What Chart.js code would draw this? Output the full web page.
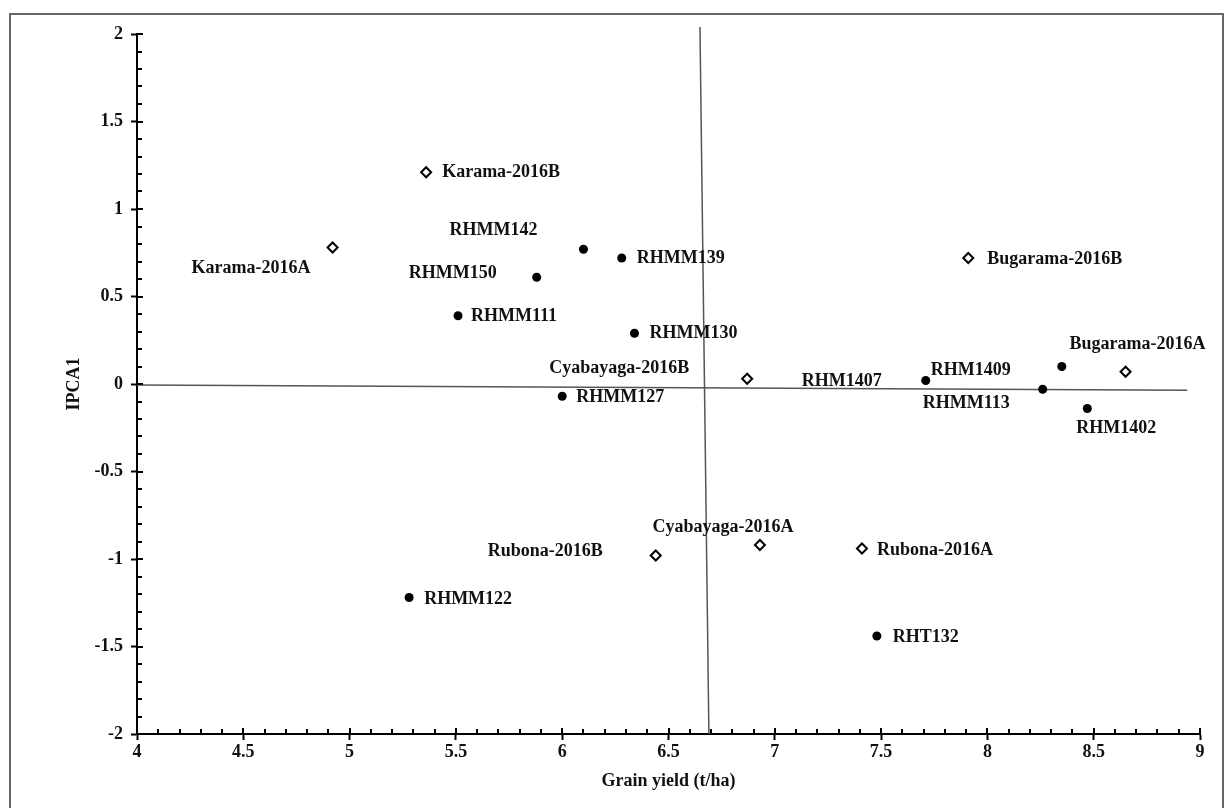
<!DOCTYPE html>
<html lang="en">
<head>
    <meta charset="UTF-8">
    <title>AMMI1 biplot - grain yield vs IPCA1</title>
    <script src="https://cdn.jsdelivr.net/npm/chart.js"></script>
    <style>
        body {
            margin: 0;
            background-color: #fff;
        }
        .frame {
            position: absolute;
            left: 9px;
            top: 13px;
            width: 1211px;
            height: 820px;
            border: 2px solid #666;
        }
        #biplot {
            position: absolute;
            left: 0;
            top: 0;
        }
    </style>
</head>
<body>
    <div class="frame"></div>
    <canvas id="biplot" width="1224" height="808"></canvas>

    <script>
        // genotypes (filled dots)
        const genotypes = ['RHMM142', 'RHMM139', 'RHMM150', 'RHMM111', 'RHMM130', 'RHMM127',
                           'RHMM122', 'RHT132', 'RHM1407', 'RHM1409', 'RHMM113', 'RHM1402'];
        const genotypeYield = [6.10, 6.28, 5.88, 5.51, 6.34, 6.00, 5.28, 7.48, 7.71, 8.35, 8.26, 8.47];
        const genotypeIPCA1 = [0.77, 0.72, 0.61, 0.39, 0.29, -0.07, -1.22, -1.44, 0.02, 0.10, -0.03, -0.14];

        // environments (open diamonds)
        const environments = ['Karama-2016B', 'Karama-2016A', 'Bugarama-2016B', 'Bugarama-2016A',
                              'Cyabayaga-2016B', 'Cyabayaga-2016A', 'Rubona-2016A', 'Rubona-2016B'];
        const envYield = [5.36, 4.92, 7.91, 8.65, 6.87, 6.93, 7.41, 6.44];
        const envIPCA1 = [1.21, 0.78, 0.72, 0.07, 0.03, -0.92, -0.94, -0.98];

        // reference lines (grand mean yield / IPCA1 = 0) as drawn in the figure
        const meanYieldLine = [{x: 6.648, y: 2.04}, {x: 6.69, y: -2}];
        const zeroIpcaLine = [{x: 4, y: -0.005}, {x: 8.94, y: -0.036}];

        // axis tick values
        const xMin = 4, xMax = 9, xStep = 0.5;
        const yMin = -2, yMax = 2, yStep = 0.5;

        // where each label sits relative to its marker: [dx, dy, align]
        const labelPlacement = {
            'RHMM142': [-90, -19, 'center'],
            'RHMM139': [15, 0, 'left'],
            'RHMM150': [-40, -4, 'right'],
            'RHMM111': [13, 1, 'left'],
            'RHMM130': [15, 0, 'left'],
            'RHMM127': [14, 1, 'left'],
            'RHMM122': [15, 2, 'left'],
            'RHT132': [16, 1, 'left'],
            'RHM1407': [-44, 1, 'right'],
            'RHM1409': [-51, 4, 'right'],
            'RHMM113': [-33, 14, 'right'],
            'RHM1402': [29, 20, 'center'],
            'Karama-2016B': [16, 0, 'left'],
            'Karama-2016A': [-22, 21, 'right'],
            'Bugarama-2016B': [19, 1, 'left'],
            'Bugarama-2016A': [12, -27, 'center'],
            'Cyabayaga-2016B': [-58, -10, 'right'],
            'Cyabayaga-2016A': [-37, -18, 'center'],
            'Rubona-2016A': [15, 2, 'left'],
            'Rubona-2016B': [-53, -4, 'right']
        };

        const serif = '"Liberation Serif", "Times New Roman", serif';

        const toPoints = (xs, ys) => xs.map((x, i) => ({x: x, y: ys[i]}));
        const tickText = (v) => String(Math.round(v * 10) / 10);

        // point labels
        const pointLabels = {
            id: 'pointLabels',
            afterDatasetsDraw(chart) {
                const ctx = chart.ctx;
                ctx.save();
                ctx.font = 'bold 18px ' + serif;
                ctx.fillStyle = '#111';
                ctx.textBaseline = 'middle';
                chart.data.datasets.forEach((ds, di) => {
                    if (!ds.names) return;
                    const meta = chart.getDatasetMeta(di);
                    meta.data.forEach((pt, i) => {
                        const name = ds.names[i];
                        const p = labelPlacement[name] || [12, 0, 'left'];
                        ctx.textAlign = p[2];
                        ctx.fillText(name, pt.x + p[0], pt.y + p[1]);
                    });
                });
                ctx.restore();
            }
        };

        // minor ticks (every 0.1) and inner half of major ticks
        const minorTicks = {
            id: 'minorTicks',
            afterDraw(chart) {
                const ctx = chart.ctx;
                const xs = chart.scales.x, ys = chart.scales.y;
                const area = chart.chartArea;
                ctx.save();
                ctx.strokeStyle = '#000';
                ctx.lineWidth = 2;
                ctx.beginPath();
                for (let i = xMin * 10; i <= xMax * 10; i++) {
                    const px = Math.round(xs.getPixelForValue(i / 10));
                    const len = (i % 5 === 0) ? 6 : 5;
                    ctx.moveTo(px, area.bottom);
                    ctx.lineTo(px, area.bottom - len);
                }
                for (let i = yMin * 10; i <= yMax * 10; i++) {
                    const py = Math.round(ys.getPixelForValue(i / 10));
                    const len = (i % 5 === 0) ? 6 : 5;
                    ctx.moveTo(area.left, py);
                    ctx.lineTo(area.left + len, py);
                }
                ctx.stroke();
                ctx.restore();
            }
        };

        const tickFont = {family: serif, size: 18, weight: 'bold'};

        const ctx = document.getElementById('biplot').getContext('2d');
        const chart = new Chart(ctx, {
            type: 'scatter',
            data: {
                datasets: [
                    {
                        type: 'line',
                        data: meanYieldLine,
                        borderColor: '#555',
                        borderWidth: 1.5,
                        pointRadius: 0,
                        showLine: true,
                        clip: false,
                        order: 3
                    },
                    {
                        type: 'line',
                        data: zeroIpcaLine,
                        borderColor: '#555',
                        borderWidth: 1.5,
                        pointRadius: 0,
                        showLine: true,
                        clip: false,
                        order: 3
                    },
                    {
                        label: 'Genotypes',
                        names: genotypes,
                        data: toPoints(genotypeYield, genotypeIPCA1),
                        pointStyle: 'circle',
                        pointRadius: 4.5,
                        backgroundColor: '#000',
                        borderColor: '#000',
                        borderWidth: 0,
                        order: 1
                    },
                    {
                        label: 'Environments',
                        names: environments,
                        data: toPoints(envYield, envIPCA1),
                        pointStyle: 'rectRot',
                        pointRadius: 5,
                        backgroundColor: '#fff',
                        borderColor: '#000',
                        borderWidth: 2,
                        order: 1
                    }
                ]
            },
            options: {
                responsive: false,
                animation: false,
                layout: {
                    padding: {left: 0, top: 34, right: 24, bottom: 0}
                },
                plugins: {
                    legend: {display: false},
                    tooltip: {enabled: false}
                },
                scales: {
                    x: {
                        type: 'linear',
                        min: xMin,
                        max: xMax,
                        afterFit: (scale) => { scale.height = 74; },
                        ticks: {
                            stepSize: xStep,
                            color: '#111',
                            font: tickFont,
                            padding: 2,
                            maxRotation: 0,
                            callback: tickText
                        },
                        grid: {
                            drawOnChartArea: false,
                            drawTicks: true,
                            tickLength: 6,
                            tickWidth: 2,
                            tickColor: '#000'
                        },
                        border: {color: '#000', width: 2},
                        title: {
                            display: true,
                            text: 'Grain yield (t/ha)',
                            color: '#111',
                            font: {family: serif, size: 18, weight: 'bold'},
                            padding: {top: 0, bottom: 16}
                        }
                    },
                    y: {
                        type: 'linear',
                        min: yMin,
                        max: yMax,
                        afterFit: (scale) => { scale.width = 137; },
                        ticks: {
                            stepSize: yStep,
                            color: '#111',
                            font: tickFont,
                            padding: 8,
                            callback: tickText
                        },
                        grid: {
                            drawOnChartArea: false,
                            drawTicks: true,
                            tickLength: 6,
                            tickWidth: 2,
                            tickColor: '#000'
                        },
                        border: {color: '#000', width: 2},
                        title: {
                            display: true,
                            text: 'IPCA1',
                            color: '#111',
                            font: {family: serif, size: 18, weight: 'bold'},
                            padding: {top: 64, bottom: 0}
                        }
                    }
                }
            },
            plugins: [minorTicks, pointLabels]
        });
    </script>
</body>
</html>
